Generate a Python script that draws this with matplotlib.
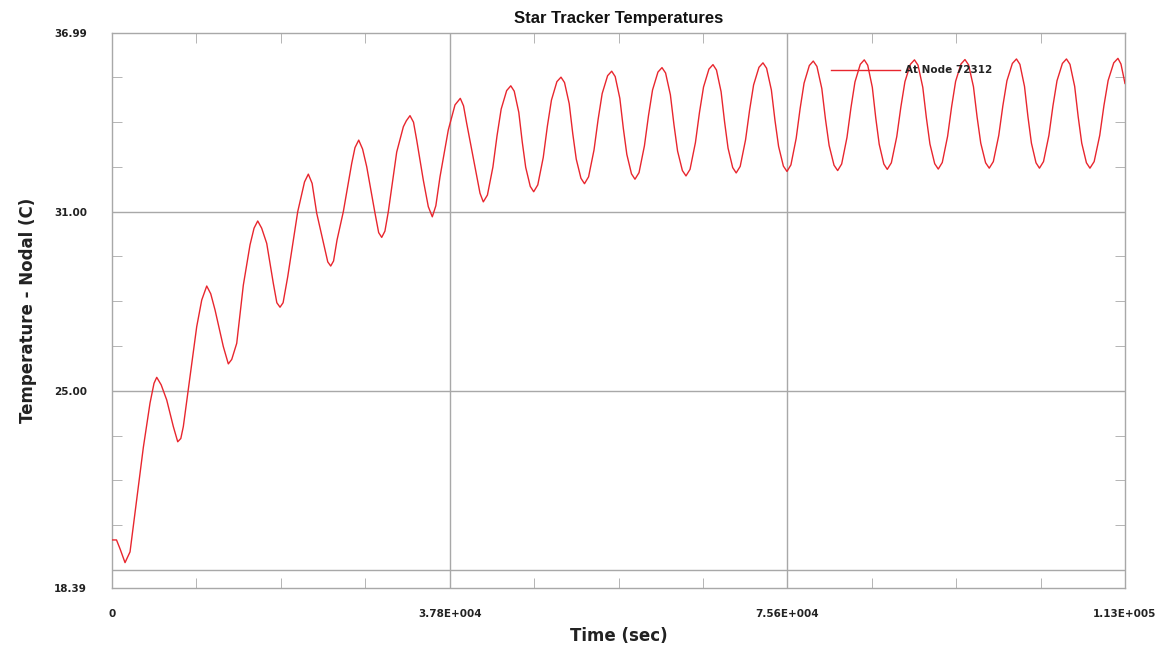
import matplotlib
matplotlib.use('Agg')
import matplotlib.pyplot as plt
import numpy as np


# node temperature history
time_sec = [
    0, 500, 900, 1455, 2015, 2765, 3504, 4254, 4700, 5004, 5500, 6123, 6862, 7354,
    7700, 7981, 8731, 9481, 10041, 10601, 11050, 11530, 12459, 13019, 13400, 13959,
    14698, 15448, 15900, 16310, 16750, 17317, 18056, 18450, 18806, 19150, 19668,
    20787, 21550, 21974, 22400, 22914, 23843, 24150, 24481, 24800, 25187, 25892,
    26832, 27200, 27616, 28050, 28511, 29440, 29850, 30190, 30550, 30929, 31869,
    32615, 32950, 33358, 33750, 34108, 34847, 35406, 35854, 36250, 36716, 37645,
    38395, 38988, 39350, 39705, 40634, 41194, 41563,
    42025, 42640, 43102, 43564, 44179, 44641,
    45026, 45538, 45923, 46308, 46820, 47205,
    47663, 48275, 48733, 49191, 49803, 50261,
    50656, 51182, 51577, 51971, 52497, 52892,
    53349, 53958, 54415, 54871, 55480, 55937,
    56328, 56849, 57241, 57632, 58153, 58544,
    58997, 59602, 60056, 60509, 61114, 61567,
    61970, 62507, 62911, 63314, 63851, 64254,
    64707, 65312, 65765, 66218, 66823, 67276,
    67666, 68185, 68575, 68964, 69483, 69873,
    70323, 70923, 71373, 71823, 72423, 72873,
    73276, 73813, 74217, 74620, 75157, 75560,
    76001, 76590, 77032, 77473, 78062, 78503,
    78913, 79459, 79869, 80279, 80825, 81235,
    81682, 82277, 82724, 83171, 83766, 84213,
    84599, 85114, 85500, 85886, 86401, 86787,
    87244, 87852, 88309, 88766, 89374, 89831,
    90231, 90764, 91164, 91564, 92097, 92497,
    92945, 93543, 93991, 94439, 95037, 95485,
    95893, 96437, 96845, 97252, 97796, 98204,
    98661, 99270, 99727, 100184, 100793, 101250,
    101636, 102151, 102538, 102924, 103439, 103825,
    104278, 104883, 105336, 105789, 106394, 106847,
    107242, 107768, 108162, 108557, 109083, 109477,
    109947, 110574, 111044, 111514, 112141, 112611,
    112950, 113400,
]
temp_c = [
    20.00, 20.00, 19.70, 19.24, 19.60, 21.35, 23.10, 24.59, 25.25, 25.45, 25.20, 24.69,
    23.80, 23.29, 23.40, 23.80, 25.47, 27.15, 28.04, 28.51, 28.25, 27.71, 26.48, 25.90,
    26.05, 26.59, 28.54, 29.89, 30.45, 30.69, 30.45, 29.94, 28.60, 27.95, 27.80, 27.95,
    28.82, 31.00, 32.00, 32.26, 31.95, 30.95, 29.72, 29.32, 29.18, 29.35, 30.05, 31.00,
    32.62, 33.15, 33.40, 33.10, 32.51, 30.95, 30.30, 30.14, 30.35, 31.00, 33.00,
    33.85, 34.05, 34.22, 34.00, 33.40, 32.06, 31.17, 30.83, 31.20, 32.17, 33.74,
    34.58, 34.80, 34.55, 33.96, 32.51, 31.62, 31.33,
    31.56, 32.50, 33.55, 34.44, 35.06, 35.22,
    35.04, 34.33, 33.34, 32.49, 31.85, 31.67,
    31.90, 32.82, 33.86, 34.74, 35.36, 35.51,
    35.33, 34.62, 33.62, 32.76, 32.12, 31.94,
    32.17, 33.07, 34.09, 34.96, 35.56, 35.71,
    35.53, 34.80, 33.79, 32.92, 32.27, 32.09,
    32.31, 33.21, 34.22, 35.08, 35.68, 35.83,
    35.65, 34.92, 33.91, 33.03, 32.38, 32.20,
    32.42, 33.32, 34.33, 35.18, 35.78, 35.93,
    35.75, 35.02, 34.01, 33.13, 32.48, 32.30,
    32.52, 33.41, 34.40, 35.25, 35.84, 35.99,
    35.81, 35.08, 34.06, 33.19, 32.53, 32.35,
    32.57, 33.46, 34.46, 35.31, 35.90, 36.05,
    35.87, 35.13, 34.10, 33.22, 32.56, 32.38,
    32.60, 33.49, 34.49, 35.35, 35.94, 36.09,
    35.91, 35.17, 34.14, 33.26, 32.60, 32.42,
    32.64, 33.52, 34.51, 35.36, 35.94, 36.09,
    35.91, 35.17, 34.15, 33.27, 32.61, 32.43,
    32.65, 33.53, 34.52, 35.37, 35.95, 36.10,
    35.92, 35.19, 34.17, 33.30, 32.64, 32.46,
    32.68, 33.56, 34.55, 35.39, 35.97, 36.12,
    35.94, 35.20, 34.18, 33.30, 32.64, 32.46,
    32.68, 33.56, 34.55, 35.39, 35.97, 36.12,
    35.94, 35.20, 34.18, 33.30, 32.64, 32.46,
    32.68, 33.56, 34.56, 35.40, 35.99, 36.14,
    35.95, 35.30,
]

x_ticks = [0, 37800, 75600, 113400]
x_tick_labels = ['0', '3.78E+004', '7.56E+004', '1.13E+005']
y_ticks = [18.39, 25.0, 31.0, 36.99]
y_tick_labels = ['18.39', '25.00', '31.00', '36.99']
y_grid = [19.0, 25.0, 31.0]

AX_COLOR = '#a8a8a8'
TXT_COLOR = '#222222'

fig = plt.figure(figsize=(11.67, 6.51), dpi=100)
ax = fig.add_axes([0.096, 0.0968, 0.868, 0.8525])

for y in y_grid:
    ax.axhline(y, color=AX_COLOR, lw=1.0, zorder=1)
for x in x_ticks[1:-1]:
    ax.axvline(x, color=AX_COLOR, lw=1.0, zorder=1)

ax.plot(time_sec, temp_c, color='#e8262e', lw=1.0, label='At Node 72312', zorder=3)

ax.set_xlim(0, 113400)
ax.set_ylim(18.39, 36.99)

for s in ax.spines.values():
    s.set_color(AX_COLOR)
    s.set_linewidth(1.0)

ax.set_xticks(x_ticks)
ax.set_xticklabels(x_tick_labels)
ax.set_yticks(y_ticks)
ax.set_yticklabels(y_tick_labels)
ax.set_xticks([v for v in np.arange(0, 113401, 9450) if v not in x_ticks], minor=True)
ax.set_yticks([19.0 + 1.5 * k for k in range(12)], minor=True)

ax.tick_params(which='major', length=0, labelsize=7.5, labelcolor=TXT_COLOR)
ax.tick_params(axis='x', which='major', pad=15)
ax.tick_params(axis='y', which='major', pad=18)
ax.tick_params(which='minor', direction='in', length=7, color=AX_COLOR,
               top=True, right=True, bottom=True, left=True)
for lbl in ax.get_xticklabels() + ax.get_yticklabels():
    lbl.set_fontweight('bold')

ax.set_xlabel('Time (sec)', fontsize=12, fontweight='bold', color=TXT_COLOR, labelpad=6)
ax.set_ylabel('Temperature - Nodal (C)', fontsize=12, fontweight='bold', color=TXT_COLOR,
              labelpad=12)
ax.set_title('Star Tracker Temperatures', fontsize=12, fontweight='bold',
             family='Liberation Sans', color='#111111', pad=7)

leg = ax.legend(loc='center left', bbox_to_anchor=(0.71, 0.933), frameon=False,
                borderpad=0, borderaxespad=0, handlelength=6.6, handletextpad=0.5,
                prop={'size': 7.5, 'weight': 'bold'})
for t in leg.get_texts():
    t.set_color(TXT_COLOR)

fig.savefig('out.png', dpi=100)
